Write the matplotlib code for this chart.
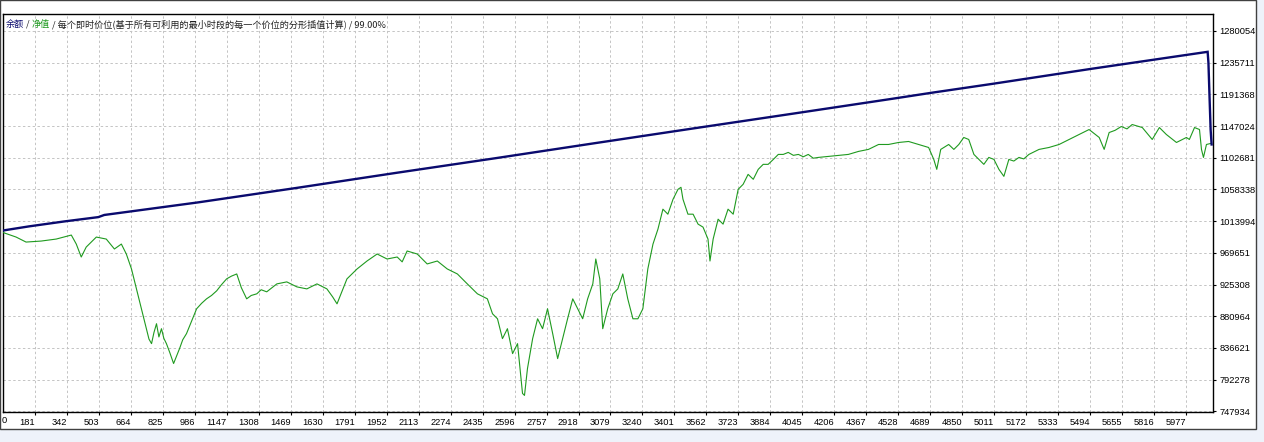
import numpy as np
import matplotlib.pyplot as plt
from matplotlib.patches import Rectangle

# balance (余额) line
balance_x = [0, 150, 330, 500, 530, 1000, 1500, 2000, 2500, 3000, 3500, 4000,
             4500, 4700, 5000, 5500, 6086, 6090, 6096, 6101, 6106]
balance_y = [1000000, 1006600, 1013600, 1019600, 1022600, 1040100, 1060500,
             1081500, 1102000, 1123000, 1143800, 1164400, 1185200, 1193700,
             1205900, 1227000, 1250800, 1235500, 1183900, 1142100, 1121200]

# equity (净值) line
equity_x = [0, 86, 136, 212, 288, 364, 389, 414, 439, 490, 540, 581, 616, 641,
            667, 692, 717, 742, 755, 768, 780, 793, 805, 818, 830, 843, 860,
            879, 895, 909, 925, 944, 995, 1020, 1045, 1070, 1096, 1120, 1146,
            1170, 1197, 1220, 1247, 1270, 1298, 1320, 1348, 1399, 1449, 1500,
            1550, 1601, 1651, 1680, 1702, 1752, 1803, 1853, 1904, 1954, 2005,
            2030, 2055, 2106, 2156, 2207, 2257, 2308, 2358, 2409, 2459, 2485,
            2510, 2535, 2560, 2586, 2611, 2636, 2646, 2661, 2687, 2712, 2737,
            2762, 2788, 2813, 2838, 2863, 2889, 2914, 2939, 2964, 2990, 3005,
            3025, 3040, 3065, 3091, 3116, 3141, 3166, 3192, 3217, 3242, 3267,
            3293, 3318, 3343, 3368, 3394, 3419, 3434, 3444, 3469, 3495, 3520,
            3545, 3570, 3580, 3596, 3621, 3646, 3671, 3697, 3722, 3747, 3772,
            3798, 3823, 3848, 3873, 3899, 3924, 3949, 3974, 4000, 4025, 4050,
            4075, 4100, 4126, 4176, 4227, 4277, 4328, 4378, 4429, 4479, 4530,
            4580, 4631, 4681, 4707, 4722, 4742, 4782, 4808, 4833, 4858, 4883,
            4909, 4934, 4959, 4984, 5010, 5035, 5060, 5085, 5110, 5136, 5160,
            5186, 5237, 5287, 5338, 5388, 5439, 5489, 5540, 5565, 5590, 5620,
            5651, 5680, 5706, 5757, 5807, 5843, 5878, 5929, 5979, 5994, 6020,
            6045, 6055, 6065, 6080, 6101]
equity_y = [1000000, 991700, 984700, 986100, 988900, 994500, 981900, 963800,
            977700, 991700, 988900, 975000, 981900, 968000, 947100, 919200,
            891400, 863500, 849000, 842600, 858000, 870500, 852000, 863500,
            850000, 842600, 830000, 814800, 826000, 835700, 848000, 856600,
            891400, 899000, 905300, 910000, 916500, 925000, 933200, 937000,
            940100, 921000, 905300, 910000, 912300, 918000, 915100, 926200,
            929000, 922000, 919200, 926200, 919200, 908000, 898300, 933200,
            947100, 958200, 968000, 961000, 963800, 957000, 972200, 968000,
            954100, 958200, 947100, 940100, 926200, 912300, 905300, 884400,
            877400, 849600, 863500, 828700, 842600, 773000, 770200, 807800,
            849600, 877400, 863500, 891400, 856600, 821700, 849600, 877400,
            905300, 891400, 877400, 905300, 926200, 961000, 933200, 863500,
            891400, 912300, 919200, 940100, 905300, 877400, 877400, 891400,
            947100, 981900, 1002800, 1030700, 1023700, 1044600, 1058500,
            1061300, 1044600, 1023700, 1023700, 1009800, 1005600, 988900,
            958200, 988900, 1016700, 1009800, 1030700, 1023700, 1058500,
            1065500, 1079400, 1072500, 1086400, 1093400, 1093400, 1100300,
            1107300, 1107300, 1110100, 1106000, 1107300, 1104000, 1107300,
            1102000, 1103100, 1104500, 1105900, 1107300, 1111500, 1114300,
            1121200, 1121200, 1124000, 1125400, 1121200, 1117000, 1100300,
            1086400, 1114300, 1121200, 1114300, 1121200, 1131000, 1128200,
            1107300, 1100300, 1093400, 1103100, 1100300, 1086400, 1076600,
            1100300, 1098000, 1103100, 1101000, 1107300, 1114300, 1117000,
            1121200, 1128200, 1135200, 1142100, 1131000, 1114300, 1137900,
            1141000, 1146300, 1143000, 1149100, 1144900, 1128200, 1144900,
            1135200, 1124000, 1131000, 1128200, 1144900, 1142100, 1114300,
            1103100, 1121200, 1122600]

x_ticks = [0, 181, 342, 503, 664, 825, 986, 1147, 1308, 1469, 1630, 1791,
           1952, 2113, 2274, 2435, 2596, 2757, 2918, 3079, 3240, 3401, 3562,
           3723, 3884, 4045, 4206, 4367, 4528, 4689, 4850, 5011, 5172, 5333,
           5494, 5655, 5816, 5977]
y_ticks = [747934, 792278, 836621, 880964, 925308, 969651, 1013994, 1058338,
           1102681, 1147024, 1191368, 1235711, 1280054]

W, H = 1264, 442
fig = plt.figure(figsize=(W / 100, H / 100), dpi=100, facecolor='#eef2fa')
fig.patches.append(Rectangle((0, 13 / H), 1256 / W, 1 - 13 / H,
                             transform=fig.transFigure, facecolor='white',
                             edgecolor='#404040', linewidth=1.0, zorder=-10))

ax = fig.add_axes([3 / W, (H - 412) / H, 1210 / W, 398 / H])
ax.set_zorder(2)
ax.set_facecolor('white')

ax.plot(equity_x, equity_y, color='#1f9a1f', linewidth=0.8, zorder=3)
ax.plot(balance_x, balance_y, color='#0a0a6e', linewidth=1.7, zorder=4,
        solid_joinstyle='miter')

ax.set_xlim(20, 6113)
ax.set_ylim(747000, 1303700)

ax.set_xticks(x_ticks[1:])
ax.set_xticklabels([str(v) for v in x_ticks[1:]], ha='right')
ax.set_yticks(y_ticks)
ax.set_yticklabels([str(v) for v in y_ticks])
ax.yaxis.tick_right()
ax.tick_params(axis='both', direction='out', length=2.5, width=0.8,
               colors='black', labelsize=6.7, pad=2)
for lab in ax.get_xticklabels() + ax.get_yticklabels():
    lab.set_family('Liberation Sans')
ax.annotate('0', xy=(0, 0), xycoords='axes fraction', xytext=(-1, -4),
            textcoords='offset pixels', ha='left', va='top', fontsize=6.7,
            family='Liberation Sans')

ax.grid(True, color='#c4c4c4', linestyle=(0, (2.5, 2.5)), linewidth=0.7)
ax.set_axisbelow(True)
for s in ax.spines.values():
    s.set_color('black')
    s.set_linewidth(1.0)

# multi-colour caption
fam = ['Noto Sans CJK SC', 'DejaVu Sans']
parts = [('余额', '#0a0a6e'), (' / ', '#222222'), ('净值', '#1f9a1f'),
         (' / 每个即时价位(基于所有可利用的最小时段的每一个价位的分形插值计算) / 99.00%', '#222222')]
prev = ax.annotate(parts[0][0], xy=(0, 1), xycoords='axes fraction',
                   xytext=(3, -10), textcoords='offset pixels',
                   ha='left', va='center', fontsize=6.6, family=fam,
                   color=parts[0][1])
for txt, col in parts[1:]:
    prev = ax.annotate(txt, xy=(1, 0.5), xycoords=prev, ha='left',
                       va='center', fontsize=6.6, family=fam, color=col)

fig.savefig('out.png', dpi=100, facecolor=fig.get_facecolor())
